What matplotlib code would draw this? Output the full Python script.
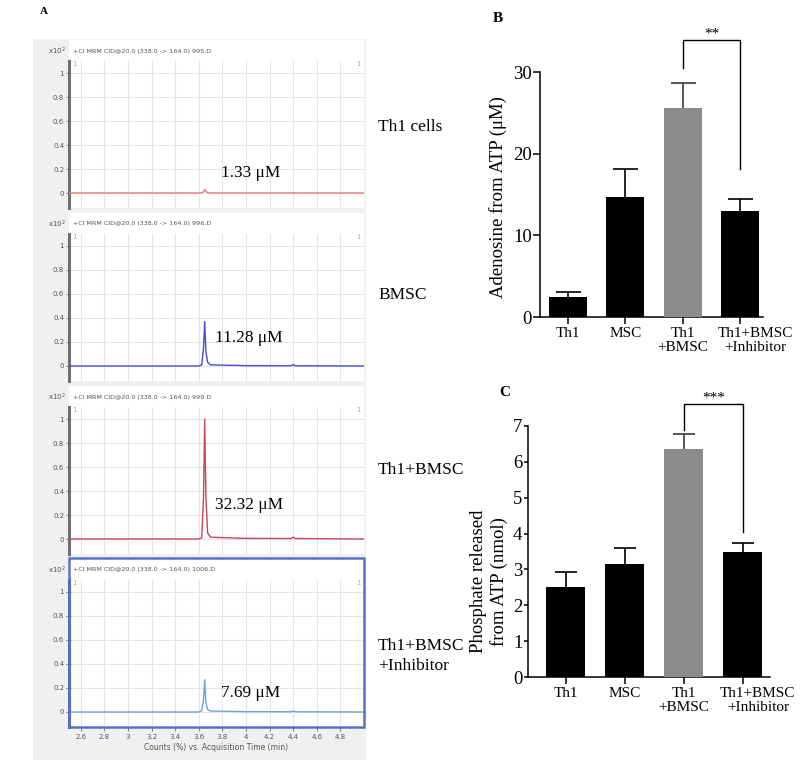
import matplotlib
matplotlib.use("Agg")
import matplotlib.pyplot as plt
import matplotlib.transforms as mtransforms
from matplotlib.patches import Rectangle

plt.rcParams['font.family'] = ['Liberation Serif', 'DejaVu Serif']

# ---- panel A: chromatograms ----
time_ticks = [2.6, 2.8, 3.0, 3.2, 3.4, 3.6, 3.8, 4.0, 4.2, 4.4, 4.6, 4.8]
time_labels = ['2.6', '2.8', '3', '3.2', '3.4', '3.6', '3.8', '4', '4.2', '4.4', '4.6', '4.8']
count_ticks = [0, 0.2, 0.4, 0.6, 0.8, 1.0]
count_labels = ['0', '0.2', '0.4', '0.6', '0.8', '1']

rt = [2.50, 3.60, 3.625, 3.64, 3.65, 3.66, 3.675, 3.70, 4.00, 4.38, 4.40, 4.42, 5.00]
trace_th1 = [0, 0, 0.0, 0.01, 0.03, 0.012, 0.003, 0, 0, 0, 0.003, 0, 0]
trace_bmsc = [0, 0, 0.01, 0.15, 0.37, 0.12, 0.03, 0.01, 0.003, 0.002, 0.012, 0.002, 0]
trace_th1_bmsc = [0, 0, 0.01, 0.35, 1.0, 0.35, 0.05, 0.015, 0.005, 0.004, 0.015, 0.004, 0]
trace_inhib = [0, 0, 0.01, 0.10, 0.27, 0.08, 0.02, 0.008, 0.003, 0.002, 0.008, 0.002, 0]

samples = ['Th1 cells', 'BMSC', 'Th1+BMSC', 'Th1+BMSC\n+Inhibitor']
files = ['995.D', '996.D', '999.D', '1006.D']
conc = ['1.33 μM', '11.28 μM', '32.32 μM', '7.69 μM']
traces = [trace_th1, trace_bmsc, trace_th1_bmsc, trace_inhib]
line_colors = ['#e8787a', '#4b4bd0', '#c8485a', '#6fa3dc']

# ---- panels B and C: bars ----
groups = ['Th1', 'MSC', 'Th1\n+BMSC', 'Th1+BMSC\n+Inhibitor']
adenosine = [2.4, 14.7, 25.6, 13.0]
adenosine_err = [0.7, 3.4, 3.0, 1.4]
phosphate = [2.51, 3.14, 6.37, 3.49]
phosphate_err = [0.42, 0.46, 0.40, 0.25]
bar_colors = ['black', 'black', '#8c8c8c', 'black']
err_colors = ['black', 'black', '#3a3a3a', 'black']

W, H = 800, 761
fig = plt.figure(figsize=(8, 7.61), dpi=100)


def fbox(x0, y0, x1, y1):
    return [x0 / W, 1 - y1 / H, (x1 - x0) / W, (y1 - y0) / H]


def frect(x0, y0, x1, y1, **kw):
    r = Rectangle((x0 / W, 1 - y1 / H), (x1 - x0) / W, (y1 - y0) / H,
                  transform=fig.transFigure, **kw)
    fig.add_artist(r)
    return r


fig.text(40 / W, 1 - 12 / H, 'A', fontsize=8, fontweight='bold', va='center')
frect(33, 39, 366, 760, facecolor='#f0f0f0', edgecolor='none', zorder=-2)

sans = ['DejaVu Sans']
gray = '#555555'
for i in range(4):
    top = 40 + 173 * i
    frect(69, top, 364, top + 21, facecolor='white', edgecolor='none', zorder=-1)
    fig.text(66 / W, 1 - (top + 11) / H, 'x10$^2$', fontsize=5, color=gray,
             ha='right', va='center', family=sans)
    fig.text(73 / W, 1 - (top + 11) / H,
             '+CI MRM CID@20.0 (338.0 -> 164.0) ' + files[i],
             fontsize=4.6, color=gray, ha='left', va='center', family=sans)

    ax = fig.add_axes(fbox(69, top + 21, 364, top + 168))
    ax.set_facecolor('white')
    ax.plot(rt, traces[i], color=line_colors[i], lw=1.0, zorder=3)
    ax.set_xlim(2.5, 5.0)
    ax.set_ylim(-0.125, 1.1)
    ax.set_xticks(time_ticks)
    ax.set_yticks(count_ticks)
    ax.set_yticklabels(count_labels, fontsize=5, color=gray, family=sans)
    ax.grid(True, color='#e4e4e4', lw=0.8, zorder=0)
    ax.tick_params(axis='y', length=2.5, width=0.7, color='#777777', pad=1)
    for s in ['top', 'bottom', 'right']:
        ax.spines[s].set_visible(False)
    ax.spines['left'].set_color('#707070')
    ax.spines['left'].set_linewidth(2.2)
    ax.text(2.53, 1.075, '1', fontsize=5, color='#aaaaaa', va='center', family=sans)
    ax.text(4.97, 1.075, '1', fontsize=5, color='#aaaaaa', va='center', ha='right', family=sans)
    if i < 3:
        ax.tick_params(axis='x', length=0, labelbottom=False)
    else:
        ax.set_xticklabels(time_labels, fontsize=5, color=gray, family=sans)
        ax.tick_params(axis='x', length=3, width=0.7, color='#777777', pad=2)
        ax.set_xlabel('Counts (%) vs. Acquisition Time (min)', fontsize=5.5,
                      color=gray, family=sans, labelpad=2)
        ax.spines['left'].set_color('#4a5fa8')

    conc_y = [173, 338, 505, 693][i]
    conc_x = [221, 215, 215, 221][i]
    fig.text(conc_x / W, 1 - conc_y / H, conc[i], fontsize=12.5, va='center')
    lab_y = [127, 295, 470, 656][i]
    fig.text(378 / W, 1 - lab_y / H, samples[i], fontsize=12.5, va='center',
             linespacing=1.3)

frect(69, 558, 364, 727, fill=False, edgecolor='#5a72c4', lw=1.8, zorder=5)


def bar_panel(box, values, errs, ylim, yticks, xlim, ylabel, label_xy, bracket,
              stars, caps, ytick_len):
    ax = fig.add_axes(fbox(*box))
    x = list(range(len(values)))
    ax.bar(x, values, width=0.66, color=bar_colors, zorder=3)
    for xi, v, e, c in zip(x, values, errs, err_colors):
        eb = ax.errorbar(xi, v, yerr=[[0], [e]], fmt='none', ecolor=c, elinewidth=1.2,
                         capsize=caps, capthick=1.2, zorder=2)
        eb[1][0].set_visible(False)
    ax.set_xlim(*xlim)
    ax.set_ylim(*ylim)
    ax.set_yticks(yticks)
    ax.set_yticklabels([str(t) for t in yticks], fontsize=13.5)
    ax.set_xticks(x)
    ax.set_xticklabels([])
    # category labels drawn as texts so the last one can sit a bit to the right
    base = mtransforms.blended_transform_factory(ax.transData, ax.transAxes)
    for xi, g in zip(x, groups):
        dx = 0.15 if xi == 3 else 0.0
        tr = base + mtransforms.ScaledTranslation(dx, -0.10, fig.dpi_scale_trans)
        ax.text(xi, 0, g, transform=tr, ha='center', va='top', fontsize=11,
                linespacing=1.1, multialignment='center')
    ax.tick_params(axis='x', length=5, width=1.1, direction='out')
    ax.tick_params(axis='y', length=ytick_len, width=1.1, direction='out', pad=1)
    for s in ['top', 'right']:
        ax.spines[s].set_visible(False)
    for s in ['left', 'bottom']:
        ax.spines[s].set_linewidth(1.1)
    ax.set_ylabel(ylabel, fontsize=13.5, linespacing=1.2)
    ax.yaxis.set_label_coords(*label_xy)
    top, left_end, right_end = bracket
    ax.plot([2, 2, 3, 3], [left_end, top, top, right_end], color='black',
            lw=1.0, clip_on=False)
    ax.text(2.5, top, stars, ha='center', va='bottom', fontsize=11)
    return ax


bar_panel((540, 72, 763, 317), adenosine, adenosine_err, (0, 30), [0, 10, 20, 30],
          (-0.49, 3.40), 'Adenosine from ATP (μM)', (-0.148, 0.49),
          (33.9, 30.5, 18.1), '**', 9, 5)
fig.text(493 / W, 1 - 18 / H, 'B', fontsize=11, fontweight='bold', va='center')

bar_panel((528, 426, 770, 677), phosphate, phosphate_err, (0, 7), list(range(8)),
          (-0.64, 3.46), 'Phosphate released\nfrom ATP (nmol)', (-0.083, 0.38),
          (7.6, 6.88, 4.04), '***', 8, 3)
fig.text(499 / W, 1 - 393 / H, 'C', fontsize=11, fontweight='bold', va='center')

fig.savefig('out.png', dpi=100)
